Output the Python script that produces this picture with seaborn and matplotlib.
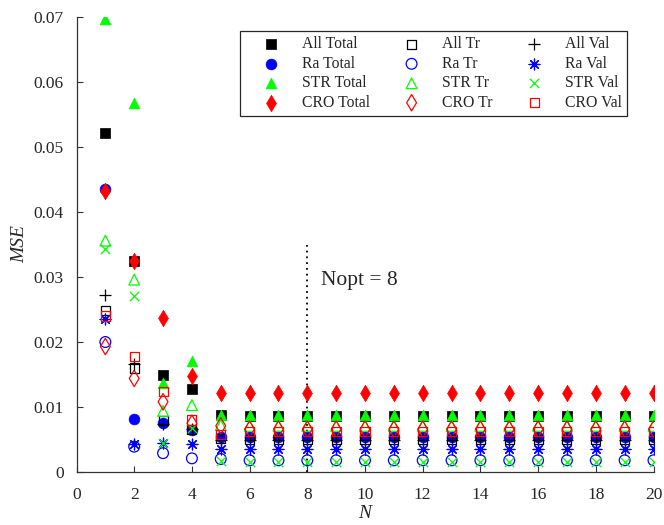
import numpy as np
import pandas as pd
import matplotlib
matplotlib.use("Agg")
import matplotlib.pyplot as plt
import seaborn as sns

# Number of components N
n_values = list(range(1, 21))

# MSE of the total set
all_total = [0.0522, 0.0324, 0.0150, 0.0127, 0.0087, 0.0086, 0.0086, 0.0086, 0.0086, 0.0086,
             0.0086, 0.0086, 0.0086, 0.0086, 0.0086, 0.0086, 0.0086, 0.0086, 0.0086, 0.0086]
ra_total = [0.0436, 0.0081, 0.0076, 0.0065, 0.0054, 0.0054, 0.0054, 0.0054, 0.0054, 0.0054,
            0.0054, 0.0054, 0.0054, 0.0054, 0.0054, 0.0054, 0.0054, 0.0054, 0.0054, 0.0054]
str_total = [0.0697, 0.0568, 0.0137, 0.0171, 0.0088, 0.0087, 0.0087, 0.0087, 0.0087, 0.0087,
             0.0087, 0.0087, 0.0087, 0.0087, 0.0087, 0.0087, 0.0087, 0.0087, 0.0087, 0.0087]
cro_total = [0.0433, 0.0324, 0.0237, 0.0148, 0.0122, 0.0122, 0.0122, 0.0122, 0.0122, 0.0122,
             0.0122, 0.0122, 0.0122, 0.0122, 0.0122, 0.0122, 0.0122, 0.0122, 0.0122, 0.0122]

# MSE of the training set
all_tr = [0.0249, 0.0160, 0.0079, 0.0065, 0.0052, 0.0050, 0.0050, 0.0050, 0.0050, 0.0050,
          0.0050, 0.0050, 0.0050, 0.0050, 0.0050, 0.0050, 0.0050, 0.0050, 0.0050, 0.0050]
ra_tr = [0.0200, 0.0039, 0.0029, 0.0021, 0.0020, 0.0018, 0.0018, 0.0018, 0.0018, 0.0018,
         0.0018, 0.0018, 0.0018, 0.0018, 0.0018, 0.0018, 0.0018, 0.0018, 0.0018, 0.0018]
str_tr = [0.0356, 0.0296, 0.0094, 0.0103, 0.0072, 0.0071, 0.0071, 0.0071, 0.0071, 0.0071,
          0.0071, 0.0071, 0.0071, 0.0071, 0.0071, 0.0071, 0.0071, 0.0071, 0.0071, 0.0071]
cro_tr = [0.0193, 0.0144, 0.0108, 0.0075, 0.0071, 0.0066, 0.0066, 0.0066, 0.0066, 0.0066,
          0.0066, 0.0066, 0.0066, 0.0066, 0.0066, 0.0066, 0.0066, 0.0066, 0.0066, 0.0066]

# MSE of the validation set
all_val = [0.0273, 0.0166, 0.0074, 0.0066, 0.0050, 0.0050, 0.0050, 0.0050, 0.0050, 0.0050,
           0.0050, 0.0050, 0.0050, 0.0050, 0.0050, 0.0050, 0.0050, 0.0050, 0.0050, 0.0050]
ra_val = [0.0236, 0.0043, 0.0045, 0.0043, 0.0036, 0.0035, 0.0035, 0.0035, 0.0035, 0.0035,
          0.0035, 0.0035, 0.0035, 0.0035, 0.0035, 0.0035, 0.0035, 0.0035, 0.0035, 0.0035]
str_val = [0.0343, 0.0271, 0.0045, 0.0067, 0.0017, 0.0015, 0.0015, 0.0015, 0.0015, 0.0015,
           0.0015, 0.0015, 0.0015, 0.0015, 0.0015, 0.0015, 0.0015, 0.0015, 0.0015, 0.0015]
cro_val = [0.0240, 0.0178, 0.0124, 0.0080, 0.0058, 0.0062, 0.0062, 0.0062, 0.0062, 0.0062,
           0.0062, 0.0062, 0.0062, 0.0062, 0.0062, 0.0062, 0.0062, 0.0062, 0.0062, 0.0062]

series_names = ["All Total", "Ra Total", "STR Total", "CRO Total",
                "All Tr", "Ra Tr", "STR Tr", "CRO Tr",
                "All Val", "Ra Val", "STR Val", "CRO Val"]
series_values = [all_total, ra_total, str_total, cro_total,
                 all_tr, ra_tr, str_tr, cro_tr,
                 all_val, ra_val, str_val, cro_val]

n_opt = 8
n_opt_line_top = 0.035

x_ticks = list(range(0, 21, 2))
y_ticks = [0, 0.01, 0.02, 0.03, 0.04, 0.05, 0.06, 0.07]
y_tick_labels = ["0", "0.01", "0.02", "0.03", "0.04", "0.05", "0.06", "0.07"]

df = pd.DataFrame({
    "N": np.tile(n_values, len(series_names)),
    "MSE": np.concatenate(series_values),
    "series": np.repeat(series_names, len(n_values)),
})

sns.set_theme(style="white")
plt.rcParams["font.family"] = ["Liberation Serif", "DejaVu Serif"]

BLACK, BLUE, GREEN, RED = "#000000", "#0000FF", "#00FF00", "#FF0000"
# marker, colour, filled?
styles = {
    "All Total": ("s", BLACK, True),
    "Ra Total": ("o", BLUE, True),
    "STR Total": ("^", GREEN, True),
    "CRO Total": ("d", RED, True),
    "All Tr": ("s", BLACK, False),
    "Ra Tr": ("o", BLUE, False),
    "STR Tr": ("^", GREEN, False),
    "CRO Tr": ("d", RED, False),
    "All Val": ("+", BLACK, None),
    "Ra Val": ((8, 2, 0), BLUE, None),
    "STR Val": ("x", GREEN, None),
    "CRO Val": ("s", RED, False),
}
sizes = {"s": 42, "o": 60, "^": 60, "d": 70, "+": 70, "x": 45}

fig = plt.figure(figsize=(6.64, 5.25), dpi=100)
ax = fig.add_axes([76.5 / 664, 53 / 525, 577 / 664, 455 / 525])

handles = []
for name in series_names:
    marker, color, filled = styles[name]
    sub = df[df["series"] == name]
    size = sizes.get(marker, 60) if isinstance(marker, str) else 60
    kws = dict(x="N", y="MSE", data=sub, ax=ax, marker=marker, s=size,
               color=color, label=name, legend=False, zorder=3)
    if filled is True:
        kws.update(edgecolor=color, linewidth=0.5)
    elif filled is False:
        kws.update(facecolor="none", edgecolor=color, linewidth=0.9)
    else:
        kws.update(linewidth=0.9)
    sns.scatterplot(**kws)
    handles.append(ax.collections[-1])

# optimal number of components
ax.plot([n_opt, n_opt], [0, n_opt_line_top], linestyle=(0, (1, 2.2)),
        color="black", linewidth=1.3, zorder=2)
ax.text(n_opt + 0.47, 0.0295, f"Nopt = {n_opt}", fontsize=15.5,
        ha="left", va="center")

ax.set_xlim(0, 20)
ax.set_ylim(0, 0.07)
ax.set_xticks(x_ticks)
ax.set_yticks(y_ticks)
ax.set_yticklabels(y_tick_labels)
ax.set_xlabel("N", fontsize=14, fontstyle="italic", labelpad=1)
ax.set_ylabel("MSE", fontsize=14, fontstyle="italic", labelpad=4)

for side in ["top", "right"]:
    ax.spines[side].set_visible(False)
for side in ["left", "bottom"]:
    ax.spines[side].set_color("#333333")
    ax.spines[side].set_linewidth(0.9)
ax.tick_params(axis="both", direction="in", length=4, width=0.8,
               colors="#333333", labelcolor="#262626", labelsize=12.5)
ax.tick_params(axis="x", pad=11, bottom=True)
ax.tick_params(axis="y", pad=9, left=True)

leg = ax.legend(handles=handles, labels=series_names, ncol=3,
                loc="upper left", bbox_to_anchor=((240 - 76.5) / 577, (472 - 31) / 455),
                borderaxespad=0, fontsize=11.3, frameon=True, fancybox=False,
                framealpha=1, edgecolor="#262626", borderpad=0.35,
                handlelength=3.3, handletextpad=0.3, columnspacing=1.0,
                labelspacing=0.22, scatterpoints=1)
leg.get_frame().set_linewidth(0.9)

fig.savefig("out.png", dpi=100)
